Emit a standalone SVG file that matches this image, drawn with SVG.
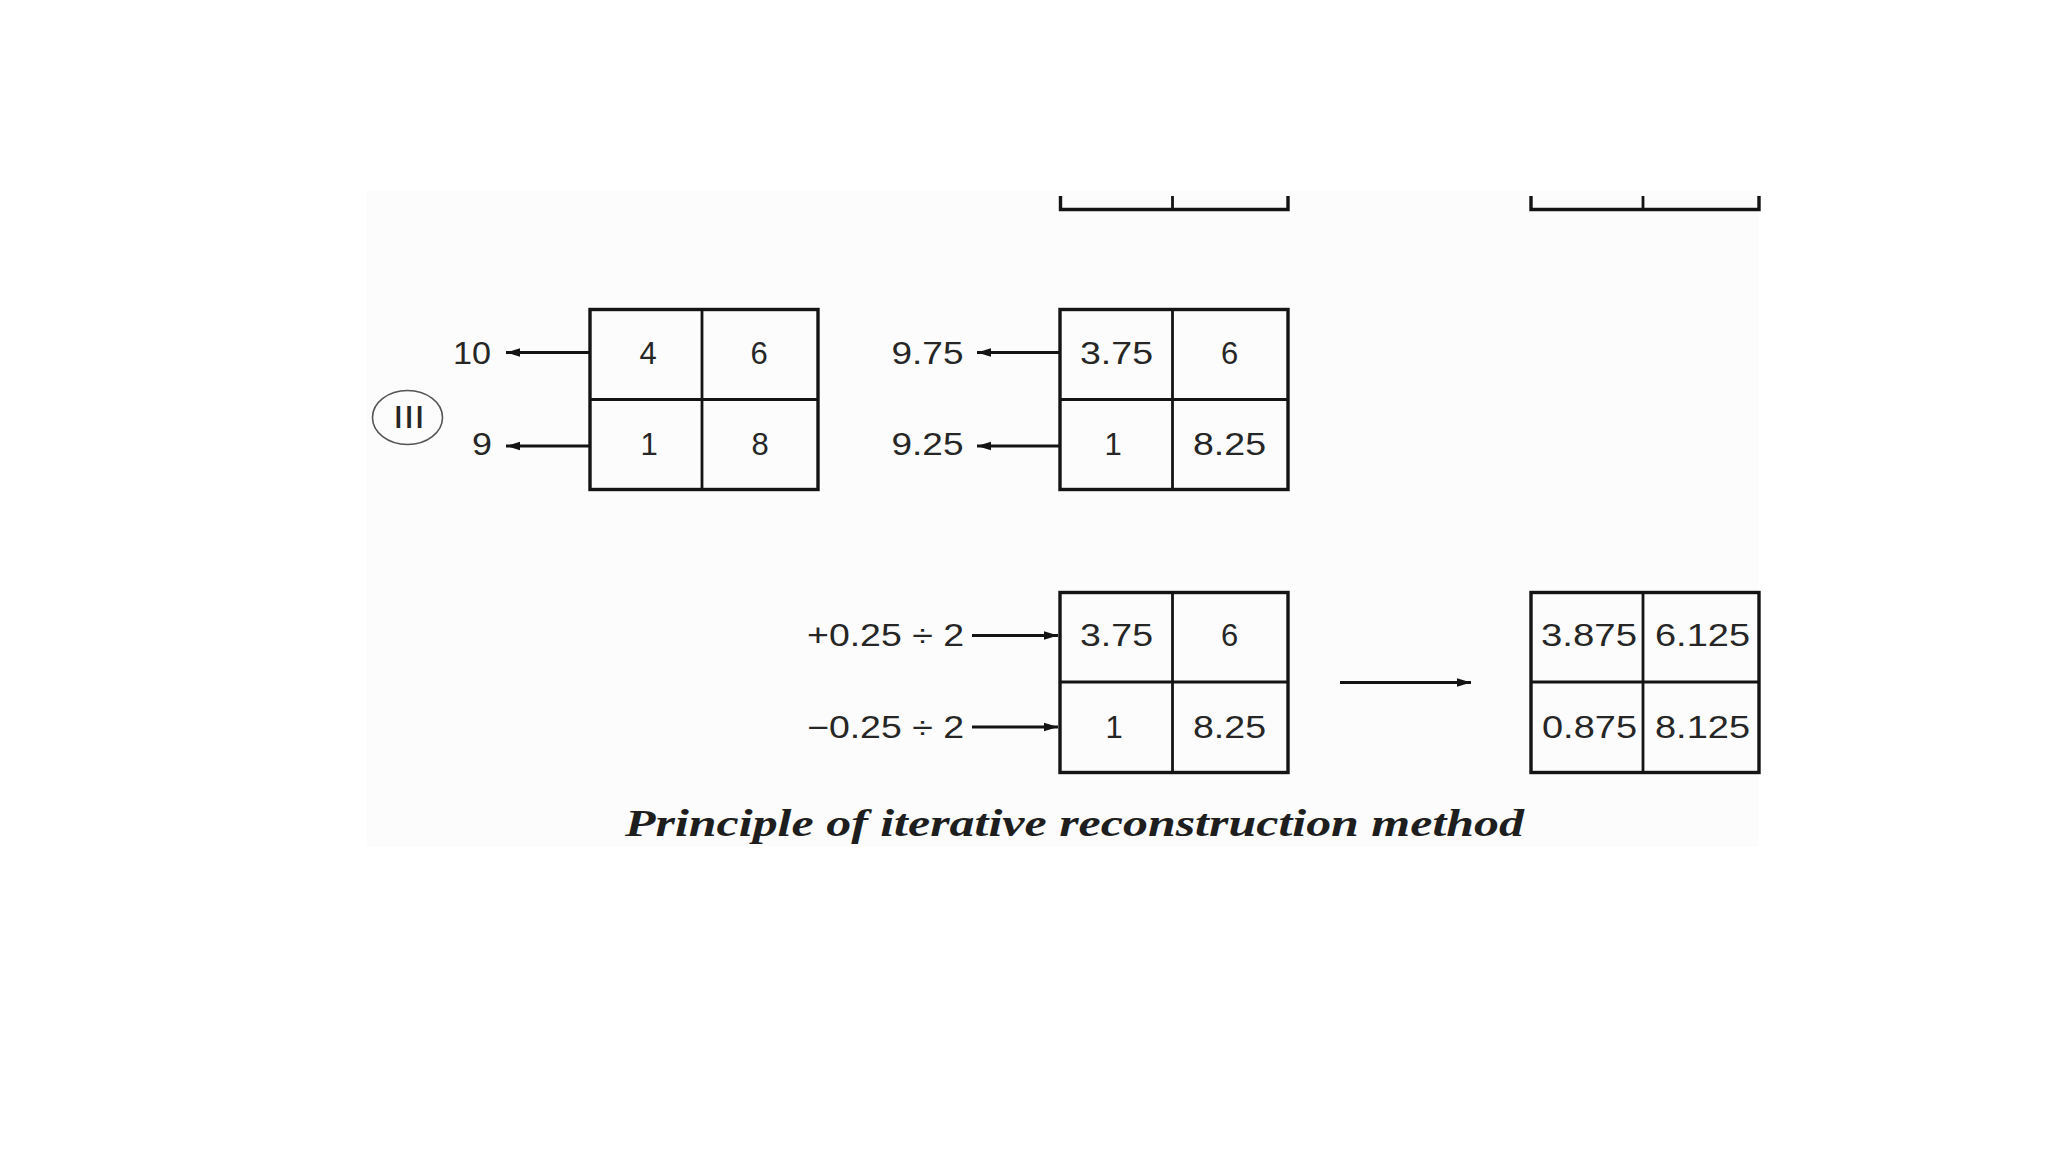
<svg xmlns="http://www.w3.org/2000/svg" width="2048" height="1152" viewBox="0 0 2048 1152">
<style>
.box{fill:none;stroke:#141414;stroke-width:3.4}
.div{stroke:#141414;stroke-width:2.8}
.num{font-family:"Liberation Sans",Arial,sans-serif;font-size:31px;fill:#262626}
.con{stroke:#141414;stroke-width:2.8;fill:none}
.cap{font-family:"Liberation Serif","Times New Roman",serif;font-size:37px;font-weight:bold;font-style:italic;fill:#1e1e1e}
</style>
<defs>
<marker id="ah" markerUnits="userSpaceOnUse" markerWidth="15" markerHeight="10" refX="14" refY="5" orient="auto">
<path d="M0,0.8 L14,5 L0,9.2 Z" fill="#141414"/>
</marker>
</defs>
<rect x="0" y="0" width="2048" height="1152" fill="#ffffff"/>
<rect x="367" y="191" width="1392" height="656" fill="#fcfcfc"/>

<g id="partial-top-middle">
<path class="box" d="M1060.5,196 V209.5 H1288 V196"/>
<line class="div" x1="1172.5" y1="196" x2="1172.5" y2="209.5"/>
</g>
<g id="partial-top-right">
<path class="box" d="M1531,196 V209.5 H1759 V196"/>
<line class="div" x1="1643" y1="196" x2="1643" y2="209.5"/>
</g>

<g id="label-III">
<ellipse cx="407.5" cy="417.5" rx="35" ry="27" fill="none" stroke="#555" stroke-width="1.6"/>
<text class="num" x="393" y="428" font-size="32" textLength="32" lengthAdjust="spacingAndGlyphs">III</text>
</g>

<g id="grid-1">
<rect class="box" x="590" y="309.5" width="228" height="180"/>
<line class="div" x1="702" y1="309.5" x2="702" y2="489.5"/>
<line class="div" x1="590" y1="399.5" x2="818" y2="399.5"/>
<text class="num" x="648" y="364" text-anchor="middle">4</text>
<text class="num" x="759" y="364" text-anchor="middle">6</text>
<text class="num" x="649" y="455" text-anchor="middle">1</text>
<text class="num" x="760" y="455" text-anchor="middle">8</text>
</g>
<g id="sum-1">
<text class="num" x="453" y="364" textLength="38" lengthAdjust="spacingAndGlyphs">10</text>
<text class="num" x="472" y="455" textLength="20" lengthAdjust="spacingAndGlyphs">9</text>
</g>

<g id="grid-2">
<rect class="box" x="1060" y="309.5" width="228" height="180"/>
<line class="div" x1="1172.5" y1="309.5" x2="1172.5" y2="489.5"/>
<line class="div" x1="1060" y1="399.5" x2="1288" y2="399.5"/>
<text class="num" x="1080" y="364" textLength="73" lengthAdjust="spacingAndGlyphs">3.75</text>
<text class="num" x="1229.5" y="364" text-anchor="middle">6</text>
<text class="num" x="1113" y="455" text-anchor="middle">1</text>
<text class="num" x="1193" y="455" textLength="73" lengthAdjust="spacingAndGlyphs">8.25</text>
</g>
<g id="sum-2">
<text class="num" x="891.5" y="364" textLength="72" lengthAdjust="spacingAndGlyphs">9.75</text>
<text class="num" x="891.5" y="455" textLength="72" lengthAdjust="spacingAndGlyphs">9.25</text>
</g>

<g id="correction">
<text class="num" x="807" y="646" textLength="157" lengthAdjust="spacingAndGlyphs">+0.25 ÷ 2</text>
<text class="num" x="807" y="738" textLength="157" lengthAdjust="spacingAndGlyphs">−0.25 ÷ 2</text>
</g>

<g id="grid-3">
<rect class="box" x="1060" y="592.5" width="228" height="180"/>
<line class="div" x1="1172.5" y1="592.5" x2="1172.5" y2="772.5"/>
<line class="div" x1="1060" y1="682" x2="1288" y2="682"/>
<text class="num" x="1080" y="646" textLength="73" lengthAdjust="spacingAndGlyphs">3.75</text>
<text class="num" x="1229.5" y="646" text-anchor="middle">6</text>
<text class="num" x="1114" y="738" text-anchor="middle">1</text>
<text class="num" x="1193" y="738" textLength="73" lengthAdjust="spacingAndGlyphs">8.25</text>
</g>

<g id="grid-4">
<rect class="box" x="1531" y="592.5" width="228" height="180"/>
<line class="div" x1="1643" y1="592.5" x2="1643" y2="772.5"/>
<line class="div" x1="1531" y1="682" x2="1759" y2="682"/>
<text class="num" x="1541" y="646" textLength="96" lengthAdjust="spacingAndGlyphs">3.875</text>
<text class="num" x="1655" y="646" textLength="95" lengthAdjust="spacingAndGlyphs">6.125</text>
<text class="num" x="1542" y="738" textLength="95" lengthAdjust="spacingAndGlyphs">0.875</text>
<text class="num" x="1655" y="738" textLength="95" lengthAdjust="spacingAndGlyphs">8.125</text>
</g>

<g id="connectors">
<line class="con" x1="590" y1="352.5" x2="506" y2="352.5" marker-end="url(#ah)"/>
<line class="con" x1="590" y1="446" x2="506" y2="446" marker-end="url(#ah)"/>
<line class="con" x1="1060" y1="352.5" x2="977" y2="352.5" marker-end="url(#ah)"/>
<line class="con" x1="1060" y1="446" x2="977" y2="446" marker-end="url(#ah)"/>
<line class="con" x1="972" y1="635.5" x2="1058" y2="635.5" marker-end="url(#ah)"/>
<line class="con" x1="972" y1="727" x2="1058" y2="727" marker-end="url(#ah)"/>
<line class="con" x1="1340" y1="682.5" x2="1471" y2="682.5" marker-end="url(#ah)"/>
</g>

<g id="caption">
<text class="cap" x="625" y="836" textLength="899" lengthAdjust="spacingAndGlyphs">Principle of iterative reconstruction method</text>
</g>
</svg>
